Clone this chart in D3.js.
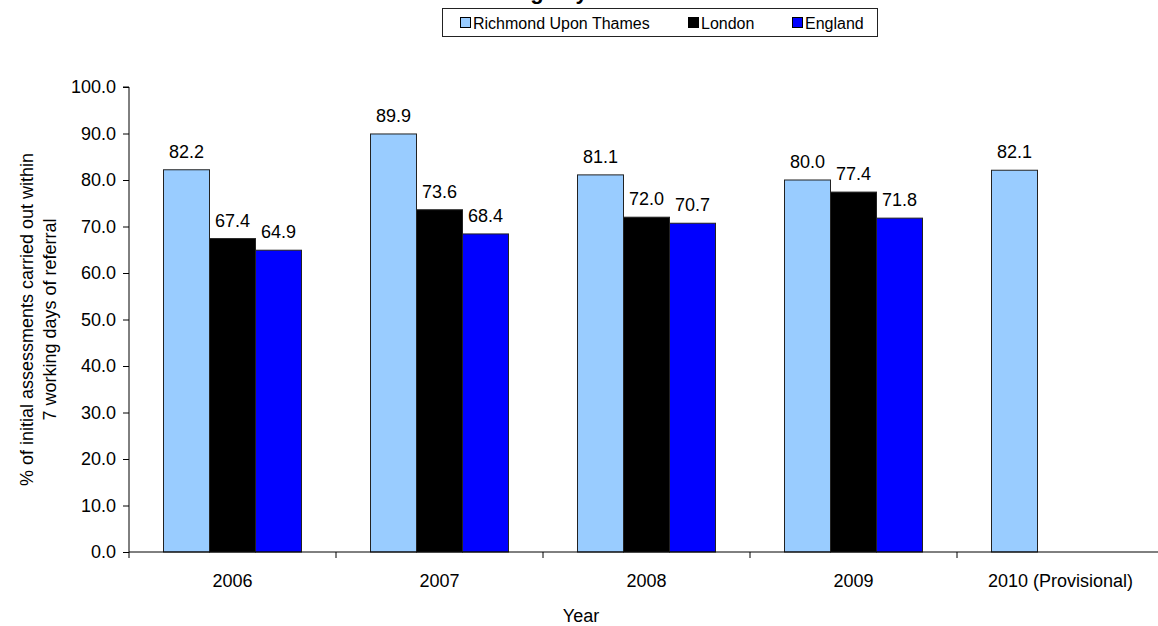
<!DOCTYPE html>
<html>
<head>
<meta charset="utf-8">
<script src="https://cdn.jsdelivr.net/npm/d3@7"></script>
<style>
  html, body { margin: 0; padding: 0; background: #fff; }
  svg { display: block; font-family: Arial, "Liberation Sans", sans-serif; }
</style>
</head>
<body>
<svg id="chart" width="1158" height="626"></svg>
<script>
// Initial assessments completed within 7 working days, by area and year
const years = ["2006", "2007", "2008", "2009", "2010 (Provisional)"];
const seriesNames = ["Richmond Upon Thames", "London", "England"];
const richmond = [82.2, 89.9, 81.1, 80.0, 82.1];
const london   = [67.4, 73.6, 72.0, 77.4, null];
const england  = [64.9, 68.4, 70.7, 71.8, null];
const yTicks = [0, 10, 20, 30, 40, 50, 60, 70, 80, 90, 100];
const seriesColors = ["#99CCFF", "#000000", "#0000FF"];

const svg = d3.select("#chart");
const W = 1158, H = 626;
const m = { left: 129, right: -6, top: 87, bottom: 74 };
const plotW = W - m.left - m.right;
const plotH = H - m.top - m.bottom;

const x0 = d3.scaleBand().domain(years).range([m.left, m.left + plotW]).paddingInner(0).paddingOuter(0);
const x1 = d3.scaleBand().domain(seriesNames).range([0, x0.bandwidth()]).paddingInner(0).paddingOuter(0.75);
const y = d3.scaleLinear().domain([0, 100]).range([m.top + plotH, m.top]);
const color = d3.scaleOrdinal().domain(seriesNames).range(seriesColors);

const rows = years.map((yr, i) => ({
  year: yr,
  values: [richmond[i], london[i], england[i]]
    .map((v, j) => ({ key: seriesNames[j], value: v }))
    .filter(d => d.value !== null)
}));

// Title (its last line sits just above the top edge)
const title = svg.append("text")
  .attr("text-anchor", "middle")
  .attr("font-size", 22).attr("font-weight", "bold");
title.append("tspan").attr("x", 540).attr("y", -27).text("Initial assessments for children's social care carried out");
title.append("tspan").attr("x", 540).attr("y", -1).text("within 7 working days of referral");

// Bars
const groups = svg.append("g").selectAll("g").data(rows).join("g")
  .attr("transform", d => `translate(${x0(d.year)},0)`);

groups.selectAll("rect").data(d => d.values).join("rect")
  .attr("x", d => x1(d.key))
  .attr("y", d => y(d.value))
  .attr("width", x1.bandwidth())
  .attr("height", d => y(0) - y(d.value))
  .attr("fill", d => color(d.key))
  .attr("stroke", "#222")
  .attr("stroke-width", 1);

groups.selectAll("text").data(d => d.values).join("text")
  .attr("x", d => x1(d.key) + x1.bandwidth() / 2)
  .attr("y", d => y(d.value) - 12)
  .attr("text-anchor", "middle")
  .attr("font-size", 18)
  .attr("fill", "#000")
  .text(d => d.value.toFixed(1));

// Y axis
const yAxis = svg.append("g")
  .attr("transform", `translate(${m.left},0)`)
  .call(d3.axisLeft(y).tickValues(yTicks).tickSize(6).tickPadding(7).tickFormat(d3.format(".1f")));
yAxis.selectAll("text").attr("font-size", 18).attr("fill", "#000").attr("font-family", "Arial, 'Liberation Sans', sans-serif");
yAxis.selectAll("line").attr("stroke", "#000");
yAxis.select(".domain").attr("stroke", "#000").attr("d", `M-6,${y(100)}H0V${y(0)}`);

// X axis: ticks at category boundaries
const xAxis = svg.append("g").attr("transform", `translate(0,${y(0)})`);
xAxis.append("line")
  .attr("x1", m.left).attr("x2", m.left + plotW)
  .attr("y1", 0).attr("y2", 0)
  .attr("stroke", "#000");
xAxis.selectAll("line.tick").data(years).join("line")
  .attr("class", "tick")
  .attr("x1", d => x0(d)).attr("x2", d => x0(d))
  .attr("y1", 0).attr("y2", 6)
  .attr("stroke", "#000");
xAxis.selectAll("text").data(years).join("text")
  .attr("x", d => x0(d) + x0.bandwidth() / 2)
  .attr("y", 35)
  .attr("text-anchor", "middle")
  .attr("font-size", 18)
  .text(d => d);

// Axis titles
svg.append("text")
  .attr("x", 581).attr("y", 622)
  .attr("text-anchor", "middle")
  .attr("font-size", 18)
  .text("Year");

const yTitle = svg.append("text")
  .attr("transform", `translate(0,${m.top + plotH / 2}) rotate(-90)`)
  .attr("text-anchor", "middle")
  .attr("font-size", 18);
yTitle.append("tspan").attr("x", 0).attr("y", 33).text("% of initial assessments carried out within");
yTitle.append("tspan").attr("x", 0).attr("y", 56).text("7 working days of referral");

// Legend
const legend = svg.append("g");
legend.append("rect")
  .attr("x", 442.5).attr("y", 8.5)
  .attr("width", 435).attr("height", 28)
  .attr("fill", "#fff").attr("stroke", "#222").attr("stroke-width", 1);
const legendX = [460, 688, 792];
const items = legend.selectAll("g.item").data(seriesNames).join("g")
  .attr("class", "item")
  .attr("transform", (d, i) => `translate(${legendX[i]},17)`);
items.append("rect")
  .attr("x", 0.5).attr("y", 0.5).attr("width", 10).attr("height", 10)
  .attr("fill", d => color(d)).attr("stroke", "#000");
items.append("text")
  .attr("x", 13).attr("y", 11.5)
  .attr("font-size", 16)
  .text(d => d);
</script>
</body>
</html>
